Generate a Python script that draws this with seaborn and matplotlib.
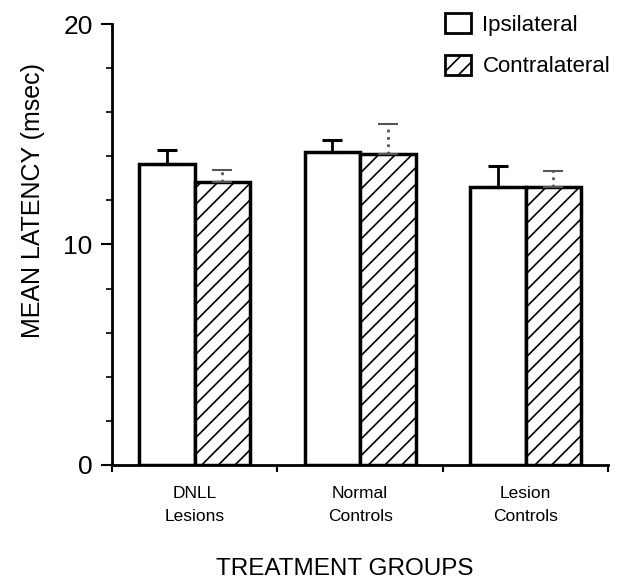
import matplotlib
matplotlib.use("Agg")
import matplotlib.pyplot as plt
import seaborn as sns
import pandas as pd
import numpy as np
from matplotlib.patches import Patch
from matplotlib.ticker import MultipleLocator

groups = ["DNLL\nLesions", "Normal\nControls", "Lesion\nControls"]
series = ["Ipsilateral", "Contralateral"]
ipsi = [13.65, 14.2, 12.6]
contra = [12.85, 14.1, 12.6]
ipsi_err = [0.65, 0.55, 0.95]
contra_err = [0.55, 1.35, 0.75]

sns.set_style("ticks")
plt.rcParams['font.family'] = ['Liberation Sans', 'DejaVu Sans']
plt.rcParams['hatch.linewidth'] = 1.2
plt.rcParams['hatch.color'] = 'black'
for k in ['text.color', 'axes.labelcolor', 'xtick.color', 'ytick.color', 'axes.edgecolor']:
    plt.rcParams[k] = 'black'

df = pd.DataFrame({
    "group": groups * 2,
    "side": [series[0]] * 3 + [series[1]] * 3,
    "value": ipsi + contra,
})

fig = plt.figure(figsize=(6.29, 5.87), dpi=100)
ax = fig.add_axes([0.178, 0.208, 0.789, 0.751])

sns.barplot(data=df, x="group", y="value", hue="side", order=groups,
            hue_order=series, palette=["white", "white"], width=0.67,
            edgecolor="black", linewidth=2.5, errorbar=None, legend=False, ax=ax)

conts = ax.containers
for bar in conts[1]:
    bar.set_hatch("//")
for i, (cont, err, col, ls) in enumerate([(conts[0], ipsi_err, "black", "-"),
                                         (conts[1], contra_err, "#555555", ":")]):
    for bar, e in zip(cont, err):
        xc = bar.get_x() + bar.get_width() / 2
        h = bar.get_height()
        eb = ax.errorbar(xc, h, yerr=[[0], [e]], fmt="none", ecolor=col,
                         elinewidth=2, capsize=7, capthick=2.2 if ls == "-" else 1.5, zorder=1)
        for lc in eb[2]:
            lc.set_linestyle(ls)

ax.set_xlim(-0.5, 2.5)
ax.set_ylim(0, 20)
ax.set_yticks([0, 10, 20])
ax.yaxis.set_minor_locator(MultipleLocator(2))
ax.set_xticks([-0.5, 0.5, 1.5, 2.5], minor=False)
ax.set_xticklabels([])
ax.set_xticks([0, 1, 2], minor=True)
ax.set_xticklabels(groups, minor=True, fontsize=12.5, linespacing=1.7)
ax.tick_params(axis="x", which="minor", length=0, pad=15)
ax.tick_params(axis="x", which="major", length=5, width=1.5, direction="out")
ax.tick_params(axis="y", which="major", length=8, width=1.5, labelsize=19, pad=6)
ax.tick_params(axis="y", which="minor", length=4, width=1.2)
for s in ["left", "bottom"]:
    ax.spines[s].set_linewidth(2)
sns.despine(ax=ax)

ax.set_ylabel("MEAN LATENCY (msec)", fontsize=18)
ax.yaxis.set_label_coords(-0.135, 0.6)
ax.set_xlabel("TREATMENT GROUPS", fontsize=17.5)
ax.xaxis.set_label_coords(0.47, -0.212)

handles = [Patch(facecolor="white", edgecolor="black", linewidth=2, label=series[0]),
           Patch(facecolor="white", edgecolor="black", linewidth=2, hatch="//", label=series[1])]
ax.legend(handles=handles, loc="upper left", bbox_to_anchor=(0.63, 1.07), frameon=False,
          fontsize=16, handlelength=1.2, handleheight=1.0, labelspacing=0.85, handletextpad=0.5)

fig.savefig("out.png", dpi=100)
